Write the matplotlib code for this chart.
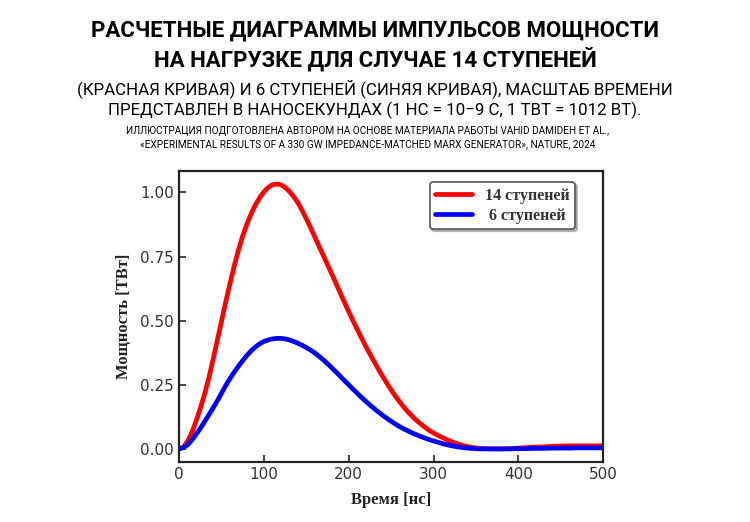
import matplotlib
matplotlib.use("Agg")
import matplotlib.pyplot as plt

time_ns = [0, 5, 10, 15, 20, 25, 30, 35, 40, 45, 50, 55, 60, 65, 70, 75, 80, 85, 90, 95,
           100, 105, 110, 115, 120, 125, 130, 135, 140, 145, 150, 155, 160, 165, 170, 175,
           180, 185, 190, 195, 200, 205, 210, 215, 220, 225, 230, 235, 240, 245, 250, 255,
           260, 265, 270, 275, 280, 285, 290, 295, 300, 305, 310, 315, 320, 325, 330, 335,
           340, 345, 350, 355, 360, 370, 380, 390, 400, 410, 420, 430, 440, 450, 460, 470,
           480, 490, 500]
p14 = [0.0, 0.008, 0.03, 0.065, 0.11, 0.16, 0.215, 0.278, 0.35, 0.425, 0.5, 0.575, 0.647,
       0.715, 0.777, 0.832, 0.878, 0.918, 0.953, 0.98, 1.003, 1.02, 1.03, 1.033, 1.03,
       1.02, 1.004, 0.984, 0.96, 0.93, 0.897, 0.862, 0.826, 0.79, 0.754, 0.718, 0.682,
       0.645, 0.608, 0.571, 0.535, 0.5, 0.466, 0.433, 0.401, 0.37, 0.34, 0.311, 0.283,
       0.256, 0.23, 0.206, 0.184, 0.163, 0.144, 0.127, 0.111, 0.097, 0.084, 0.072, 0.062,
       0.053, 0.045, 0.037, 0.03, 0.024, 0.018, 0.013, 0.009, 0.006, 0.004, 0.002, 0.001,
       0.0, 0.0, 0.001, 0.003, 0.005, 0.007, 0.008, 0.01, 0.011, 0.012, 0.012, 0.012,
       0.012, 0.012]
p6 = [0.0, 0.005, 0.016, 0.035, 0.057, 0.081, 0.107, 0.133, 0.16, 0.188, 0.218, 0.248,
      0.275, 0.3, 0.323, 0.345, 0.365, 0.383, 0.398, 0.41, 0.419, 0.425, 0.429, 0.431,
      0.431, 0.429, 0.425, 0.419, 0.412, 0.404, 0.395, 0.385, 0.374, 0.361, 0.347, 0.332,
      0.316, 0.3, 0.283, 0.266, 0.25, 0.233, 0.217, 0.201, 0.186, 0.171, 0.157, 0.144,
      0.131, 0.119, 0.108, 0.097, 0.087, 0.078, 0.07, 0.062, 0.055, 0.048, 0.042, 0.036,
      0.031, 0.026, 0.021, 0.017, 0.013, 0.01, 0.007, 0.005, 0.003, 0.002, 0.001, 0.0,
      0.0, 0.0, 0.0, 0.0, 0.001, 0.001, 0.002, 0.002, 0.003, 0.003, 0.003, 0.004, 0.004,
      0.004, 0.004]
series_labels = ["14 ступеней", " 6 ступеней"]
xticks = [0, 100, 200, 300, 400, 500]
yticks = [0.0, 0.25, 0.5, 0.75, 1.0]

title_lines = ["РАСЧЕТНЫЕ ДИАГРАММЫ ИМПУЛЬСОВ МОЩНОСТИ",
               "НА НАГРУЗКЕ ДЛЯ СЛУЧАЕ 14 СТУПЕНЕЙ"]
sub_lines = ["(КРАСНАЯ КРИВАЯ) И 6 СТУПЕНЕЙ (СИНЯЯ КРИВАЯ), МАСШТАБ ВРЕМЕНИ",
             "ПРЕДСТАВЛЕН В НАНОСЕКУНДАХ (1 НС = 10−9 С, 1 ТВТ = 1012 ВТ)."]
credit_lines = ["ИЛЛЮСТРАЦИЯ ПОДГОТОВЛЕНА АВТОРОМ НА ОСНОВЕ МАТЕРИАЛА РАБОТЫ VAHID DAMIDEH ET AL.,",
                "«EXPERIMENTAL RESULTS OF A 330 GW IMPEDANCE-MATCHED MARX GENERATOR», NATURE, 2024"]

cond = ["Roboto", "DejaVu Sans"]
serif = ["Liberation Serif", "DejaVu Serif"]

fig = plt.figure(figsize=(7.5, 5.22), dpi=100)
ax = fig.add_axes([0.239, 0.1155, 0.565, 0.5575])

ax.plot(time_ns, p14, color="#ff0000", lw=3.4, label=series_labels[0],
        solid_capstyle="round", solid_joinstyle="round")
ax.plot(time_ns, p6, color="#0000ff", lw=3.4, label=series_labels[1],
        solid_capstyle="round", solid_joinstyle="round")

ax.set_xlim(0, 500)
ax.set_ylim(-0.05, 1.085)
ax.set_xticks(xticks)
ax.set_yticks(yticks)
ax.set_yticklabels([f"{v:.2f}" for v in yticks])
ax.tick_params(direction="in", length=5, width=1.2, colors="#222222",
               labelsize=11, labelcolor="#333333", pad=4)
for s in ax.spines.values():
    s.set_color("#222222")
    s.set_linewidth(1.6)

ax.set_xlabel("Время [нс]", family=serif, fontweight="bold", fontsize=12,
              color="#222222", labelpad=7)
ax.set_ylabel("Мощность [ТВт]", family=serif, fontweight="bold", fontsize=12,
              color="#222222", labelpad=6)

leg = ax.legend(loc="upper right", bbox_to_anchor=(0.934, 0.961), borderaxespad=0,
                prop={"family": serif, "weight": "bold", "size": 11.5},
                frameon=True, fancybox=True,
                shadow={"color": "0.55", "alpha": 0.6, "ox": 1.5, "oy": -1.5},
                handlelength=2.3, borderpad=0.35, labelspacing=0.25, handletextpad=0.8,
                framealpha=1)
leg.get_frame().set_edgecolor("#555555")
leg.get_frame().set_linewidth(1.2)
for t in leg.get_texts():
    t.set_color("#333333")

fig.text(0.5, 1 - 31 / 522, title_lines[0], ha="center", va="center",
         family=cond, fontweight="bold", fontsize=16)
fig.text(0.5, 1 - 59 / 522, title_lines[1], ha="center", va="center",
         family=cond, fontweight="bold", fontsize=16)
fig.text(0.5, 1 - 89 / 522, sub_lines[0], ha="center", va="center",
         family=cond, fontsize=12.2)
fig.text(0.5, 1 - 110 / 522, sub_lines[1], ha="center", va="center",
         family=cond, fontsize=12.2)
fig.text(0.49, 1 - 131 / 522, credit_lines[0], ha="center", va="center",
         family=cond, fontsize=7.2)
fig.text(0.49, 1 - 144 / 522, credit_lines[1], ha="center", va="center",
         family=cond, fontsize=7.2)

fig.savefig("out.png", dpi=100)
